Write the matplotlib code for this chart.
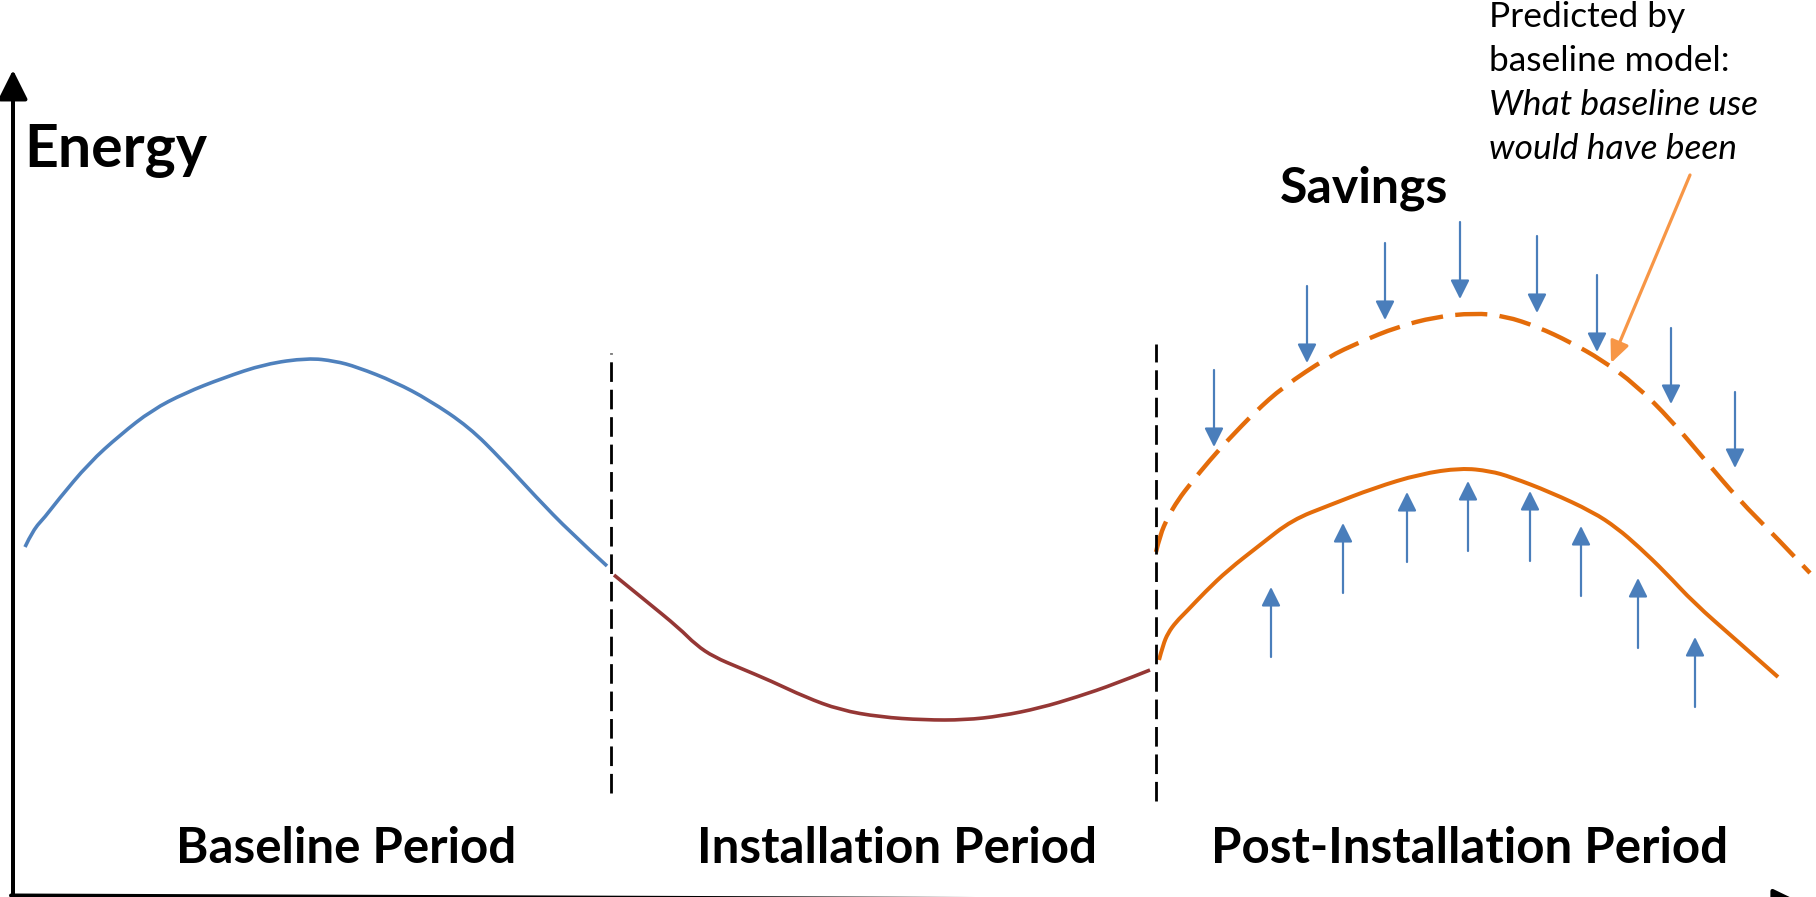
import matplotlib
matplotlib.use("Agg")
import matplotlib.pyplot as plt
from matplotlib.patches import FancyArrowPatch, PathPatch
from matplotlib.path import Path

# ---------------- data (time units on x, energy units on y) ----------------
baseline_t = [25, 33, 45, 58, 89, 120, 152, 185, 223, 265, 308, 335, 357, 395, 429, 469, 502, 536, 570, 607]
baseline_e = [350, 367, 380, 397, 434, 462, 487, 504, 519, 533, 539, 536, 530, 515, 497, 470, 437, 400, 365, 331]

install_t = [614, 646, 679, 696, 714, 740, 771, 805, 840, 880, 924, 965, 1001, 1040, 1077, 1115, 1150]
install_e = [322, 296, 269, 252, 240, 229, 216, 200, 187, 180, 177, 177, 181, 189, 200, 213, 227]

post_t = [1159, 1163, 1168, 1176, 1187, 1205, 1228, 1260, 1292, 1330, 1374, 1420, 1461, 1490, 1511,
          1550, 1593, 1617, 1639, 1665, 1694, 1735, 1778]
post_e = [237, 252, 264, 275, 286, 305, 327, 352, 377, 392, 409, 423, 429, 426, 420,
          405, 385, 369, 350, 325, 294, 258, 220]

pred_t = [1156, 1160, 1168, 1178, 1191, 1210, 1228, 1255, 1283, 1328, 1360, 1397, 1435, 1474, 1505,
          1538, 1570, 1602, 1636, 1671, 1705, 1739, 1775, 1810]
pred_e = [345, 362, 380, 397, 414, 437, 457, 485, 510, 540, 555, 570, 580, 584, 581,
          570, 555, 537, 512, 477, 437, 397, 361, 324]

period_bounds = [611, 1156]
period_labels = ["Baseline Period", "Installation Period", "Post-Installation Period"]
period_centers = [346, 897, 1470]

down_t = [1214, 1307, 1385, 1460, 1537, 1597, 1671, 1735]
down_from = [527, 611, 654, 675, 661, 622, 569, 505]
down_to = [450, 534, 577, 598, 584, 545, 493, 429]

up_t = [1271, 1343, 1407, 1468, 1530, 1581, 1638, 1695]
up_from = [240, 304, 335, 346, 336, 301, 249, 190]
up_to = [310, 374, 405, 416, 406, 371, 319, 260]

callout_lines = ["Predicted by", "baseline model:", "What baseline use", "would have been"]
callout_italic = [False, False, True, True]

# ---------------- style ----------------
BLUE = "#4F81BD"
ARROW_BLUE = "#4A7EBB"
BROWN = "#953735"
ORANGE = "#E46C0A"
CALLOUT = "#F79646"
FONT = "Lato"

W, H = 1816, 897
fig = plt.figure(figsize=(W / 100, H / 100), dpi=100)
ax = fig.add_axes([0, 0, 1, 1])
ax.set_xlim(0, W)
ax.set_ylim(0, H)
ax.axis("off")


def px(p):
    return p * 0.72  # pixels -> points


def smooth_curve(t, e, **kw):
    """Draw a smooth curve through the read points using quadratic Bezier segments."""
    pts = list(zip(t, e))
    verts = [pts[0]]
    codes = [Path.MOVETO]
    for i in range(1, len(pts) - 1):
        mid = ((pts[i][0] + pts[i + 1][0]) / 2, (pts[i][1] + pts[i + 1][1]) / 2)
        if i == len(pts) - 2:
            mid = pts[-1]
        verts += [pts[i], mid]
        codes += [Path.CURVE3, Path.CURVE3]
    ax.add_patch(PathPatch(Path(verts, codes), fill=False, **kw))


# axes arrows
ax.add_patch(FancyArrowPatch((13, -2), (13, 827), arrowstyle=f"-|>,head_length={px(25)},head_width={px(12.5)}",
                             mutation_scale=1, lw=px(4), color="black", shrinkA=0, shrinkB=0))
ax.add_patch(FancyArrowPatch((11, 1.5), (1800, -5), arrowstyle=f"-|>,head_length={px(23)},head_width={px(11)}",
                             mutation_scale=1, lw=px(4), color="black", shrinkA=0, shrinkB=0))

# period boundaries
ax.vlines(period_bounds, [104, 96], [544, 553], colors="black", lw=px(2.8), linestyles=[(0, (7, 2.8))])

# curves
smooth_curve(baseline_t, baseline_e, edgecolor=BLUE, lw=px(3.6), capstyle="butt")
smooth_curve(install_t, install_e, edgecolor=BROWN, lw=px(3.6), capstyle="butt")
smooth_curve(post_t, post_e, edgecolor=ORANGE, lw=px(4), capstyle="butt")
smooth_curve(pred_t, pred_e, edgecolor=ORANGE, lw=px(4.4), linestyle=(0, (7.3, 2.8)), capstyle="butt")

# savings arrows
for t, a, b in zip(down_t, down_from, down_to):
    ax.add_patch(FancyArrowPatch((t, a), (t, b), arrowstyle=f"-|>,head_length={px(16)},head_width={px(8)}",
                                 mutation_scale=1, lw=px(2.2), color=ARROW_BLUE, shrinkA=0, shrinkB=0))
for t, a, b in zip(up_t, up_from, up_to):
    ax.add_patch(FancyArrowPatch((t, a), (t, b), arrowstyle=f"-|>,head_length={px(16)},head_width={px(8)}",
                                 mutation_scale=1, lw=px(2.2), color=ARROW_BLUE, shrinkA=0, shrinkB=0))

# callout arrow
ax.add_patch(FancyArrowPatch((1690, 722), (1611, 534), arrowstyle=f"-|>,head_length={px(18)},head_width={px(8)}",
                             mutation_scale=1, lw=px(3.2), color=CALLOUT, shrinkA=0, shrinkB=0))

# texts
ax.text(24, 730, "Energy", fontsize=42.5, fontweight="bold", family=FONT, ha="left", va="baseline")
ax.text(1280, 695, "Savings", fontsize=36, fontweight="bold", family=FONT, ha="left", va="baseline")
for c, lab in zip(period_centers, period_labels):
    ax.text(c, 34, lab, fontsize=35.5, fontweight="bold", family=FONT, ha="center", va="baseline")
for i, (line, it) in enumerate(zip(callout_lines, callout_italic)):
    ax.text(1489, 870 - 44 * i, line, fontsize=25.5, family=FONT, style="italic" if it else "normal",
            ha="left", va="baseline")

fig.savefig("out.png", dpi=100)
